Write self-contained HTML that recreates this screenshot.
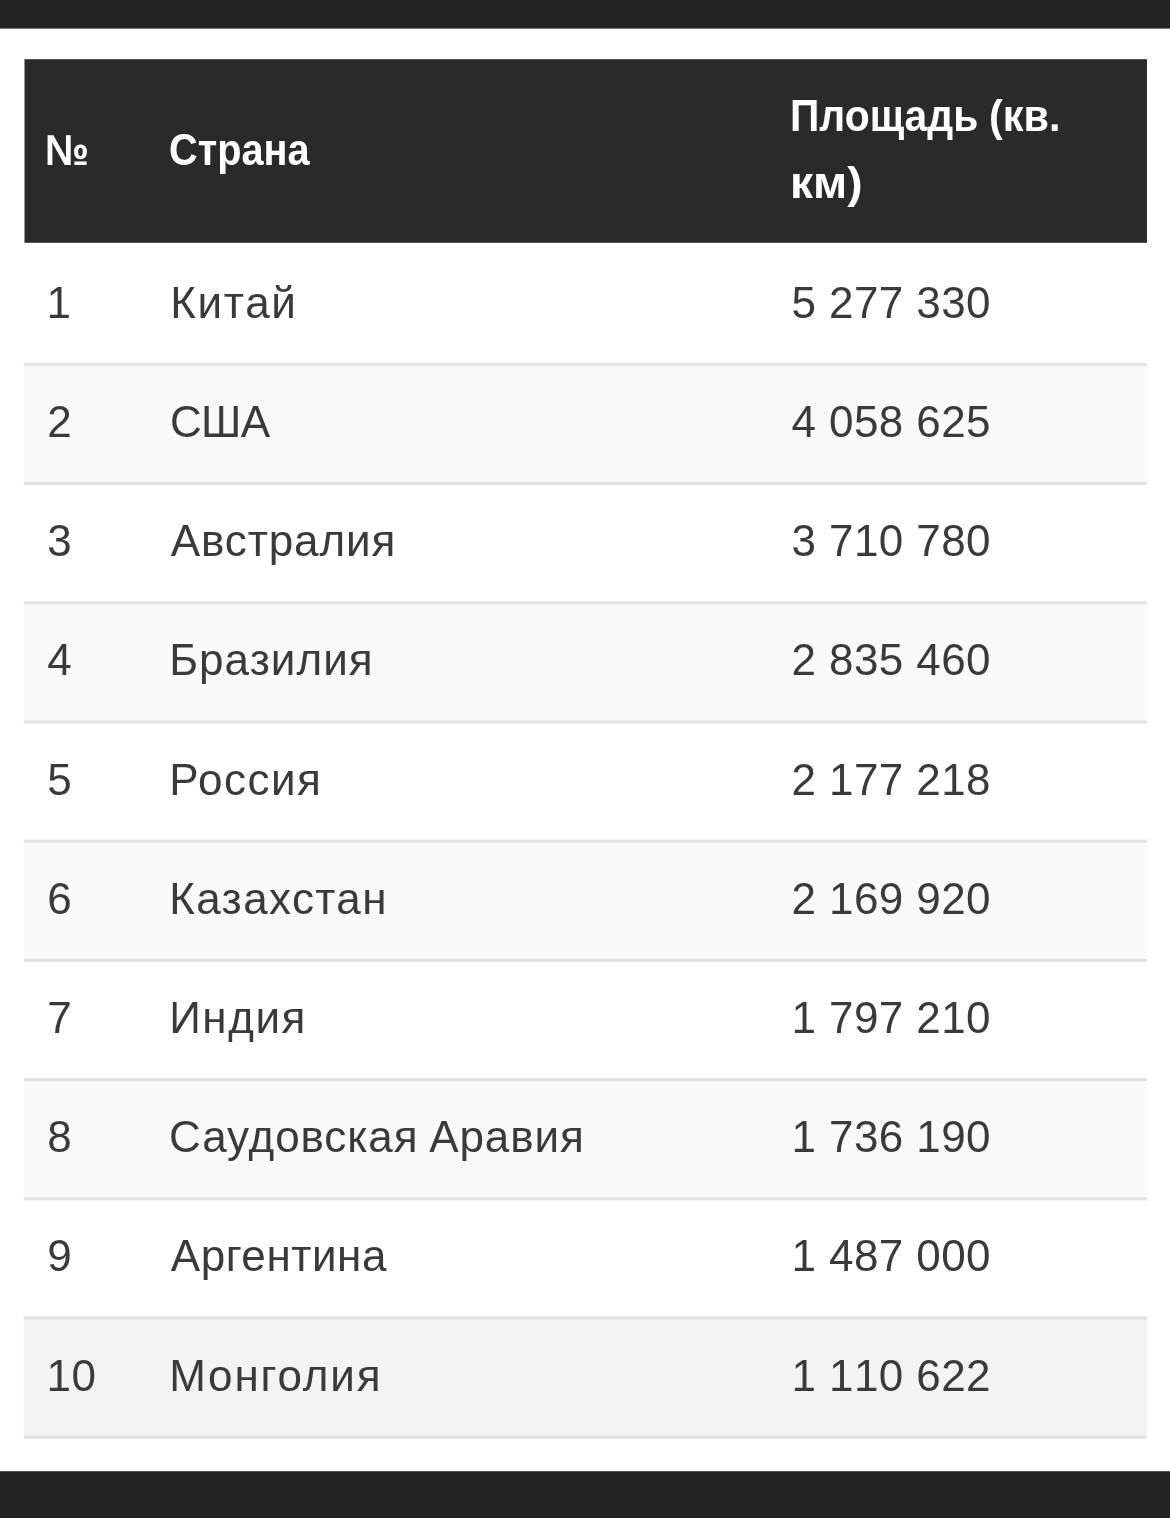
<!DOCTYPE html>
<html lang="ru">
<head>
<meta charset="utf-8">
<title>Крупнейшие страны по площади</title>
<style>
html,body{margin:0;padding:0;}
body{width:1170px;height:1518px;background:#fff;position:relative;overflow:hidden;
 font-family:"Liberation Sans",sans-serif;color:#3a3a3a;}
.bg{position:absolute;left:0;top:0;display:block;}
.t{position:absolute;white-space:nowrap;line-height:1;transform-origin:0 50%;}
.b{font-size:44px;}
.nk{font-kerning:none;}
.h{font-size:43.5px;font-weight:bold;color:#fff;}
</style>
</head>
<body>
<svg class="bg" width="1170" height="1518" viewBox="0 0 1170 1518">
<rect x="0" y="0" width="1170" height="28.6" fill="#242427"/>
<rect x="23.8" y="364.30" width="1123.2" height="119.22" fill="#f9f9f9"/>
<rect x="23.8" y="602.74" width="1123.2" height="119.22" fill="#f9f9f9"/>
<rect x="23.8" y="841.18" width="1123.2" height="119.22" fill="#f9f9f9"/>
<rect x="23.8" y="1079.62" width="1123.2" height="119.22" fill="#f9f9f9"/>
<rect x="23.8" y="1318.06" width="1123.2" height="119.22" fill="#f3f3f3"/>
<rect x="23.8" y="362.75" width="1123.2" height="3.1" fill="#e3e3e3"/>
<rect x="23.8" y="481.97" width="1123.2" height="3.1" fill="#e3e3e3"/>
<rect x="23.8" y="601.19" width="1123.2" height="3.1" fill="#e3e3e3"/>
<rect x="23.8" y="720.41" width="1123.2" height="3.1" fill="#e3e3e3"/>
<rect x="23.8" y="839.63" width="1123.2" height="3.1" fill="#e3e3e3"/>
<rect x="23.8" y="958.85" width="1123.2" height="3.1" fill="#e3e3e3"/>
<rect x="23.8" y="1078.07" width="1123.2" height="3.1" fill="#e3e3e3"/>
<rect x="23.8" y="1197.29" width="1123.2" height="3.1" fill="#e3e3e3"/>
<rect x="23.8" y="1316.51" width="1123.2" height="3.1" fill="#e3e3e3"/>
<rect x="23.8" y="1435.73" width="1123.2" height="3.1" fill="#e3e3e3"/>
<rect x="24.5" y="59.2" width="1122.5" height="183.6" fill="#2a2a2a"/>
<rect x="0" y="1471.2" width="1170" height="46.8" fill="#242427"/>
</svg>
<div class="t h" style="left:45.15px;top:128.88px;transform:scaleX(0.9075);">№</div>
<div class="t h" style="left:169.00px;top:128.88px;transform:scaleX(0.9132);">Страна</div>
<div class="t h" style="left:790.12px;top:94.58px;transform:scaleX(0.9385);">Площадь</div>
<div class="t h" style="left:989.05px;top:94.58px;transform:scaleX(0.9526);">(кв.</div>
<div class="t h" style="left:790.12px;top:162.18px;transform:scaleX(1.0619);">км)</div>
<div class="t b nk" style="left:46.60px;top:280.65px;">1</div>
<div class="t b" style="left:170.16px;top:280.65px;letter-spacing:1.710px;">Китай</div>
<div class="t b nk" style="left:791.60px;top:280.65px;letter-spacing:0.400px;">5 277 330</div>
<div class="t b nk" style="left:47.20px;top:399.87px;">2</div>
<div class="t b" style="left:169.98px;top:399.87px;letter-spacing:-0.630px;">США</div>
<div class="t b nk" style="left:791.60px;top:399.87px;letter-spacing:0.400px;">4 058 625</div>
<div class="t b nk" style="left:47.20px;top:519.09px;">3</div>
<div class="t b" style="left:170.80px;top:519.09px;letter-spacing:0.889px;">Австралия</div>
<div class="t b nk" style="left:791.60px;top:519.09px;letter-spacing:0.400px;">3 710 780</div>
<div class="t b nk" style="left:47.20px;top:638.31px;">4</div>
<div class="t b" style="left:169.16px;top:638.31px;letter-spacing:1.054px;">Бразилия</div>
<div class="t b nk" style="left:791.60px;top:638.31px;letter-spacing:0.400px;">2 835 460</div>
<div class="t b nk" style="left:47.20px;top:757.53px;">5</div>
<div class="t b" style="left:169.16px;top:757.53px;letter-spacing:1.476px;">Россия</div>
<div class="t b nk" style="left:791.60px;top:757.53px;letter-spacing:0.400px;">2 177 218</div>
<div class="t b nk" style="left:47.20px;top:876.75px;">6</div>
<div class="t b" style="left:169.20px;top:876.75px;letter-spacing:1.395px;">Казахстан</div>
<div class="t b nk" style="left:791.60px;top:876.75px;letter-spacing:0.400px;">2 169 920</div>
<div class="t b nk" style="left:47.20px;top:995.97px;">7</div>
<div class="t b" style="left:169.20px;top:995.97px;letter-spacing:1.530px;">Индия</div>
<div class="t b nk" style="left:791.60px;top:995.97px;letter-spacing:0.400px;">1 797 210</div>
<div class="t b nk" style="left:47.20px;top:1115.19px;">8</div>
<div class="t b" style="left:169.02px;top:1115.19px;letter-spacing:0.914px;word-spacing:-2.40px;">Саудовская Аравия</div>
<div class="t b nk" style="left:791.60px;top:1115.19px;letter-spacing:0.400px;">1 736 190</div>
<div class="t b nk" style="left:47.20px;top:1234.41px;">9</div>
<div class="t b" style="left:170.82px;top:1234.41px;letter-spacing:0.551px;">Аргентина</div>
<div class="t b nk" style="left:791.60px;top:1234.41px;letter-spacing:0.400px;">1 487 000</div>
<div class="t b nk" style="left:46.60px;top:1353.63px;letter-spacing:0.400px;">10</div>
<div class="t b" style="left:169.13px;top:1353.63px;letter-spacing:1.826px;">Монголия</div>
<div class="t b nk" style="left:791.60px;top:1353.63px;letter-spacing:0.400px;">1 110 622</div>
</body>
</html>
